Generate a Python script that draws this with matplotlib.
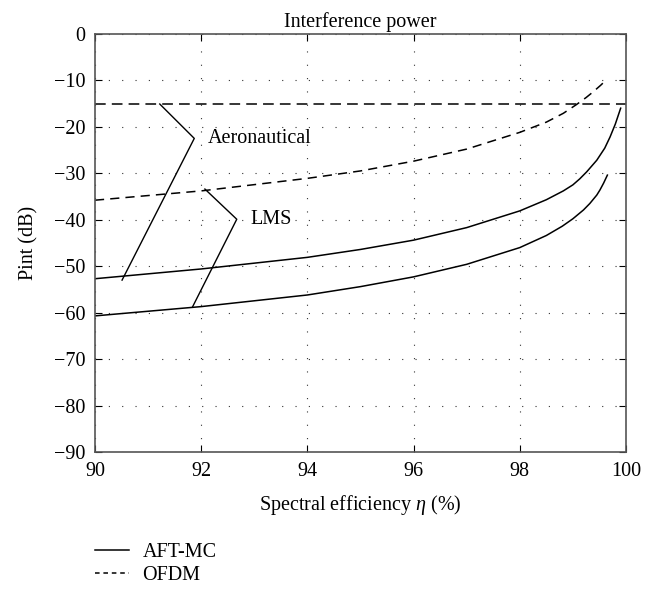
import matplotlib
matplotlib.use("Agg")
from matplotlib import pyplot as plt
from matplotlib.lines import Line2D

plt.rcParams['font.family'] = ['Liberation Serif', 'DejaVu Serif']
plt.rcParams['mathtext.fontset'] = 'custom'
plt.rcParams['mathtext.it'] = 'Liberation Serif:italic'
plt.rcParams['font.size'] = 14.5

# AFT-MC, aeronautical channel
aero_x = [90, 92, 94, 95, 96, 97, 98, 98.5, 98.82, 99, 99.13, 99.26, 99.45, 99.6, 99.7, 99.8, 99.9]
aero_y = [-52.7, -50.6, -48.1, -46.4, -44.4, -41.7, -38.1, -35.7, -33.8, -32.5, -31.2, -29.7, -27.2,
          -24.6, -22.2, -19.4, -16.0]

# AFT-MC, LMS channel
lms_x = [90, 92, 94, 95, 96, 97, 98, 98.5, 98.8, 99, 99.2, 99.32, 99.45, 99.51, 99.58, 99.65]
lms_y = [-60.7, -58.7, -56.2, -54.4, -52.3, -49.6, -46.0, -43.4, -41.4, -39.8, -37.9, -36.5, -34.7,
         -33.6, -32.1, -30.4]

# OFDM, LMS channel
ofdm_lms_x = [90, 92, 94, 95, 96, 97, 98, 98.5, 98.82, 99.07, 99.25, 99.38, 99.52, 99.64]
ofdm_lms_y = [-35.8, -33.8, -31.1, -29.5, -27.4, -24.8, -21.2, -19.0, -17.1, -15.2, -13.7, -12.5,
              -11.1, -9.8]

# OFDM, aeronautical channel (flat)
ofdm_aero_x = [90, 100]
ofdm_aero_y = [-15.1, -15.1]

# annotation pointers
aero_ptr_x = [91.22, 91.87, 90.51]
aero_ptr_y = [-15.1, -22.5, -53.0]
lms_ptr_x = [92.07, 92.67, 91.84]
lms_ptr_y = [-33.4, -39.9, -58.7]

fig = plt.figure(figsize=(6.61, 5.94), dpi=100)
ax = fig.add_axes([0.1437, 0.239, 0.8033, 0.704])

lw = 1.1
ax.plot(aero_x, aero_y, color='black', lw=lw)
ax.plot(lms_x, lms_y, color='black', lw=lw)
ax.plot(ofdm_lms_x, ofdm_lms_y, color='black', lw=lw, dashes=(6, 4))
ax.plot(ofdm_aero_x, ofdm_aero_y, color='black', lw=lw, dashes=(7, 4))

ax.plot(aero_ptr_x, aero_ptr_y, color='black', lw=1.0)
ax.plot(lms_ptr_x, lms_ptr_y, color='black', lw=1.0)
ax.text(92.13, -22.5, 'Aeronautical', va='center', ha='left')
ax.text(92.92, -39.9, 'LMS', va='center', ha='left')

ax.set_xlim(90, 100)
ax.set_ylim(-90, 0)
ax.set_xticks(range(90, 101, 2))
ax.set_yticks(range(-90, 1, 10))
ax.set_yticklabels(['\u2212%d' % -v if v < 0 else '%d' % v for v in range(-90, 1, 10)])
ax.tick_params(direction='in', top=True, right=True, length=5, width=0.8)
ax.tick_params(axis='x', pad=7)
ax.tick_params(axis='y', pad=7)
ax.grid(True, color='#333333', linestyle=(0, (1, 11)), lw=0.8)
for s in ax.spines.values():
    s.set_color('#555555')
    s.set_linewidth(1.2)

ax.set_title('Interference power', fontsize=14.5, pad=5)
ax.set_xlabel(r'Spectral efficiency $\eta$ (%)', labelpad=9)
ax.set_ylabel('Pint (dB)', labelpad=11)

handles = [Line2D([], [], color='black', lw=lw),
           Line2D([], [], color='black', lw=lw, dashes=(3, 2.5))]
fig.legend(handles, ['AFT-MC', 'OFDM'], loc='upper left',
           bbox_to_anchor=(0.1437, 0.086), frameon=False,
           handlelength=1.7, handletextpad=0.65, labelspacing=0.2,
           borderaxespad=0, borderpad=0)

fig.savefig('out.png', dpi=100)
